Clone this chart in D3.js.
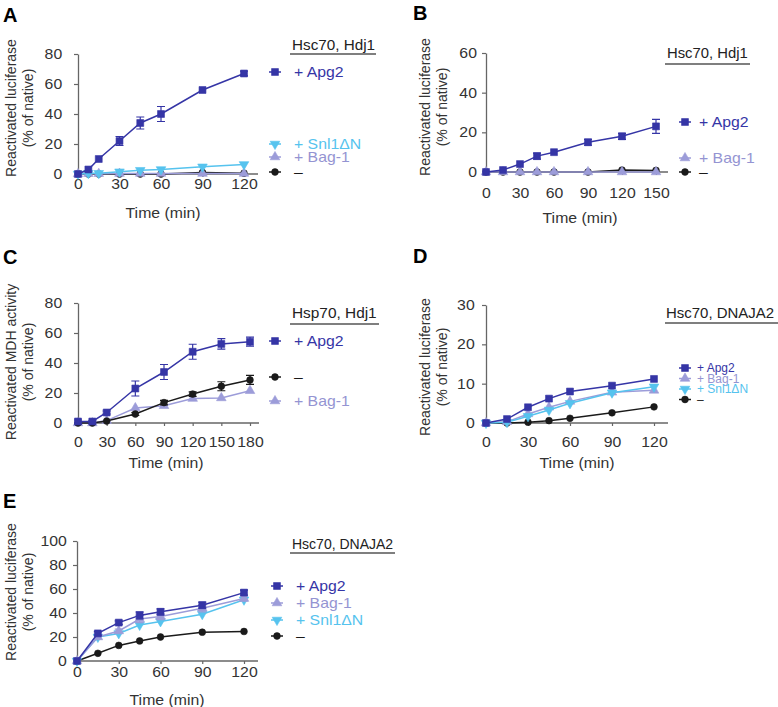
<!DOCTYPE html>
<html><head><meta charset="utf-8">
<script src="https://cdn.jsdelivr.net/npm/d3@7"></script>
<style>
html,body{margin:0;padding:0;background:#fff;}
svg{display:block;font-family:"Liberation Sans",Arial,Helvetica,sans-serif;}
</style></head>
<body>
<svg id="chart" width="778" height="707"></svg>
<script>
// ---------------- DATA ----------------
const seriesNames = ["+ Apg2", "+ Bag-1", "+ Snl1\u0394N", "\u2013"];

// Panel A: Hsc70, Hdj1 (luciferase)
const aTimes = [0, 7.5, 15, 30, 45, 60, 90, 120];
const aApg2 = [0, 3, 10, 22, 34, 40, 56, 67];
const aApg2Err = [0, 0, 0, 3, 4, 5, 0, 1.5];
const aSnl = [0, 0.5, 0.5, 1.5, 2.5, 3, 4.8, 6.4];
const aBag = [0, 0.2, 0.2, 0.3, 0.3, 0.3, 0.3, 0.3];
const aNone = [0, 0, 0, 0, 0, 0, 1, 0.5];
const aXTicks = [0, 30, 60, 90, 120];
const aYTicks = [0, 20, 40, 60, 80];

// Panel B: Hsc70, Hdj1 (luciferase)
const bTimes = [0, 15, 30, 45, 60, 90, 120, 150];
const bApg2 = [0, 1, 4, 8, 10, 15, 18, 23];
const bApg2Err = [0, 0, 0, 1.5, 0, 1.5, 1.5, 3.5];
const bBag = [0, 0, 0, 0, 0, 0, 0, 0];
const bNone = [0, 0, 0, 0, 0, 0, 1, 0.8];
const bXTicks = [0, 30, 60, 90, 120, 150];
const bYTicks = [0, 20, 40, 60];

// Panel C: Hsp70, Hdj1 (MDH)
const cTimes = [0, 15, 30, 60, 90, 120, 150, 180];
const cApg2 = [1, 1, 7, 23, 34, 47.5, 52.7, 54.2];
const cApg2Err = [1, 0.8, 1, 5, 5, 5, 3.5, 3];
const cNone = [0, 0, 1.3, 6, 13.6, 19.3, 24.5, 28.7];
const cNoneErr = [0, 0, 0, 1, 1.5, 1.5, 3, 3];
const cBag = [0, 0, 1.6, 10, 11.5, 16.3, 16.7, 21.5];
const cXTicks = [0, 30, 60, 90, 120, 150, 180];
const cYTicks = [0, 20, 40, 60, 80];

// Panel D: Hsc70, DNAJA2 (luciferase)
const dTimes = [0, 15, 30, 45, 60, 90, 120];
const dApg2 = [0, 1, 4, 6.2, 8, 9.5, 11.2];
const dBag = [0, 0.3, 2.3, 4, 5.5, 7.8, 8.3];
const dSnl = [0, 0.2, 1.7, 3.3, 5, 7.7, 9.2];
const dNone = [0, 0, 0.2, 0.6, 1.2, 2.6, 4.1];
const dXTicks = [0, 30, 60, 90, 120];
const dYTicks = [0, 10, 20, 30];

// Panel E: Hsc70, DNAJA2 (luciferase)
const eTimes = [0, 15, 30, 45, 60, 90, 120];
const eApg2 = [0, 23, 32, 38, 41, 46.5, 57];
const eApg2Err = [0, 1.5, 1.5, 3, 2.5, 2.5, 2];
const eBag = [0, 20, 25, 35, 37, 44, 52];
const eBagErr = [0, 1.5, 1.5, 3, 2.5, 3, 2];
const eSnl = [0, 20, 23, 30, 33, 39, 51];
const eNone = [0, 6.4, 13, 16.7, 20, 24, 24.6];
const eXTicks = [0, 30, 60, 90, 120];
const eYTicks = [0, 20, 40, 60, 80, 100];

// ---------------- STYLE ----------------
const colors = {"+ Apg2": "#3535a6", "+ Bag-1": "#9c9cd9", "+ Snl1\u0394N": "#56c3ee", "\u2013": "#1a1a1a"};
const textColors = {"+ Apg2": "#3535a6", "+ Bag-1": "#9494d2", "+ Snl1\u0394N": "#56c3ee", "\u2013": "#1a1a1a"};
const symbols = {"+ Apg2": "square", "+ Bag-1": "up", "+ Snl1\u0394N": "down", "\u2013": "circle"};

const svg = d3.select("#chart");
const FONT = 14;
const SX = 1.13; // horizontal stretch of the figure's lettering

function sym(kind) {
  if (kind === "square") return d3.symbol(d3.symbolSquare, 48)();
  if (kind === "circle") return d3.symbol(d3.symbolCircle, 36)();
  return d3.symbol(d3.symbolTriangle, 40)();
}
function drawMarker(g, kind, x, y, color) {
  const p = g.append("path").attr("d", sym(kind)).attr("fill", color)
    .attr("stroke", color).attr("stroke-width", 0.6);
  if (kind === "down") p.attr("transform", `translate(${x},${y}) rotate(180)`);
  else p.attr("transform", `translate(${x},${y})`);
}
function hText(g, x, y, txt, opts) {
  const sx = opts.sx || SX;
  const t = g.append("text").attr("transform", `translate(${x},${y}) scale(${sx},1)`)
    .attr("font-size", opts.fs || FONT).attr("fill", opts.fill || "#333").text(txt);
  if (opts.anchor) t.attr("text-anchor", opts.anchor);
  if (opts.dy) t.attr("dy", opts.dy);
  return t;
}

const panels = [
  { letter: "A", lx: 3, ly: 22,
    x0: 78, x1: 244, axEnd: 258, y0: 174, y1: 54,
    xDom: [0, 120], yDom: [0, 80], xTicks: aXTicks, yTicks: aYTicks,
    xPad: 2, yPad: 10, titleX: 163, titleY: 218, ytitleX: [11, 28], ytitleY: 108,
    ytitle: ["Reactivated luciferase", "(% of native)"],
    times: aTimes,
    series: [
      {name: "\u2013", v: aNone},
      {name: "+ Bag-1", v: aBag},
      {name: "+ Snl1\u0394N", v: aSnl},
      {name: "+ Apg2", v: aApg2, err: aApg2Err}],
    legend: {hx: 292, hy: 50, hsx: 1.09, uy: 54, ux: [290, 376], mx: 275, tx: 294, fs: 14, sx: 1.13,
      items: [["+ Apg2", 72], ["+ Snl1\u0394N", 144], ["+ Bag-1", 157], ["\u2013", 172]], header: "Hsc70, Hdj1"} },
  { letter: "B", lx: 413, ly: 20,
    x0: 486, x1: 656, axEnd: 668, y0: 172, y1: 53,
    xDom: [0, 150], yDom: [0, 60], xTicks: bXTicks, yTicks: bYTicks,
    xPad: 13, yPad: 4, titleX: 580, titleY: 223, ytitleX: [425, 442], ytitleY: 107,
    ytitle: ["Reactivated luciferase", "(% of native)"],
    times: bTimes,
    series: [
      {name: "\u2013", v: bNone},
      {name: "+ Bag-1", v: bBag},
      {name: "+ Apg2", v: bApg2, err: bApg2Err}],
    legend: {hx: 667, hy: 58, hsx: 1.06, uy: 64, ux: [665, 750], mx: 685, tx: 699, fs: 14, sx: 1.13,
      items: [["+ Apg2", 122], ["+ Bag-1", 158], ["\u2013", 172]], header: "Hsc70, Hdj1"} },
  { letter: "C", lx: 3, ly: 264,
    x0: 78, x1: 250, axEnd: 259, y0: 423, y1: 303,
    xDom: [0, 180], yDom: [0, 80], xTicks: cXTicks, yTicks: cYTicks,
    xPad: 11, yPad: 10, titleX: 166, titleY: 468, ytitleX: [11, 28], ytitleY: 362,
    ytitle: ["Reactivated MDH activity", "(% of native)"],
    times: cTimes,
    series: [
      {name: "+ Bag-1", v: cBag},
      {name: "\u2013", v: cNone, err: cNoneErr},
      {name: "+ Apg2", v: cApg2, err: cApg2Err}],
    legend: {hx: 292, hy: 318, hsx: 1.1, uy: 324, ux: [290, 379], mx: 275, tx: 294, fs: 14, sx: 1.13,
      items: [["+ Apg2", 341], ["\u2013", 377], ["+ Bag-1", 401]], header: "Hsp70, Hdj1"} },
  { letter: "D", lx: 413, ly: 263,
    x0: 486, x1: 654, axEnd: 668, y0: 423, y1: 305,
    xDom: [0, 120], yDom: [0, 30], xTicks: dXTicks, yTicks: dYTicks,
    xPad: 11, yPad: 6, titleX: 577, titleY: 468, ytitleX: [425, 442], ytitleY: 367,
    ytitle: ["Reactivated luciferase", "(% of native)"],
    times: dTimes,
    series: [
      {name: "\u2013", v: dNone},
      {name: "+ Bag-1", v: dBag},
      {name: "+ Snl1\u0394N", v: dSnl},
      {name: "+ Apg2", v: dApg2}],
    legend: {hx: 666, hy: 318, hsx: 1.07, uy: 323, ux: [665, 778], mx: 685, tx: 697, fs: 12, sx: 1.0,
      items: [["+ Apg2", 368], ["+ Bag-1", 378.5], ["+ Snl1\u0394N", 389], ["\u2013", 399.5]], header: "Hsc70, DNAJA2"} },
  { letter: "E", lx: 3, ly: 508,
    x0: 77, x1: 244, axEnd: 258, y0: 661, y1: 541,
    xDom: [0, 120], yDom: [0, 100], xTicks: eXTicks, yTicks: eYTicks,
    xPad: 3, yPad: 5, titleX: 167, titleY: 705, ytitleX: [11, 28], ytitleY: 592,
    ytitle: ["Reactivated luciferase", "(% of native)"],
    times: eTimes,
    series: [
      {name: "\u2013", v: eNone},
      {name: "+ Snl1\u0394N", v: eSnl},
      {name: "+ Bag-1", v: eBag, err: eBagErr},
      {name: "+ Apg2", v: eApg2, err: eApg2Err}],
    legend: {hx: 292, hy: 549, hsx: 1.0, uy: 553, ux: [290, 395], mx: 277, tx: 296, fs: 14, sx: 1.13,
      items: [["+ Apg2", 586], ["+ Bag-1", 603], ["+ Snl1\u0394N", 620], ["\u2013", 636]], header: "Hsc70, DNAJA2"} }
];

panels.forEach(p => {
  const g = svg.append("g");
  const x = d3.scaleLinear().domain(p.xDom).range([p.x0, p.x1]);
  const y = d3.scaleLinear().domain(p.yDom).range([p.y0, p.y1]);

  // letter
  g.append("text").attr("x", p.lx).attr("y", p.ly).text(p.letter)
    .attr("font-size", 20).attr("font-weight", "bold").attr("fill", "#000");

  // y axis
  const ya = g.append("g").attr("transform", `translate(${p.x0},0)`)
    .call(d3.axisLeft(y).tickValues(p.yTicks).tickSize(4).tickPadding(p.yPad).tickSizeOuter(0));
  // x axis
  const xa = g.append("g").attr("transform", `translate(0,${p.y0})`)
    .call(d3.axisBottom(x).tickValues(p.xTicks).tickSize(3).tickPadding(p.xPad).tickSizeOuter(0));
  [ya, xa].forEach(a => {
    a.select(".domain").attr("stroke", "#666").attr("stroke-width", 1.3);
    a.selectAll(".tick line").attr("stroke", "#666").attr("stroke-width", 1.2);
    a.selectAll(".tick text").attr("font-size", FONT).attr("fill", "#333")
      .attr("font-family", '"Liberation Sans",Arial,sans-serif')
      .attr("transform", `scale(${SX},1)`);
  });
  // extend x axis line
  xa.select(".domain").attr("d", `M${p.x0},0H${p.axEnd}`);

  // axis titles
  hText(g, p.titleX, p.titleY, "Time (min)", {anchor: "middle"});
  p.ytitle.forEach((t, i) => {
    g.append("text").attr("transform", `translate(${p.ytitleX[i] + 5},${p.ytitleY}) rotate(-90)`)
      .attr("text-anchor", "middle").attr("font-size", FONT).attr("fill", "#333").text(t);
  });

  // series
  const line = d3.line().x((d, i) => x(p.times[i])).y(d => y(d));
  p.series.forEach(s => {
    const c = colors[s.name];
    g.append("path").datum(s.v).attr("d", line).attr("fill", "none")
      .attr("stroke", c).attr("stroke-width", 1.5);
    if (s.err) {
      s.v.forEach((v, i) => {
        const e = s.err[i];
        if (!e) return;
        const cx = x(p.times[i]);
        g.append("path").attr("d",
          `M${cx},${y(v - e)}V${y(v + e)}M${cx - 4},${y(v - e)}H${cx + 4}M${cx - 4},${y(v + e)}H${cx + 4}`)
          .attr("stroke", c).attr("stroke-width", 1.2).attr("fill", "none");
      });
    }
    s.v.forEach((v, i) => drawMarker(g, symbols[s.name], x(p.times[i]), y(v), c));
  });

  // legend
  const L = p.legend;
  hText(g, L.hx, L.hy, L.header, {fill: "#222", sx: L.hsx});
  g.append("line").attr("x1", L.ux[0]).attr("x2", L.ux[1]).attr("y1", L.uy).attr("y2", L.uy)
    .attr("stroke", "#555").attr("stroke-width", 1.5);
  L.items.forEach(([name, yy]) => {
    const c = colors[name];
    g.append("line").attr("x1", L.mx - 6).attr("x2", L.mx + 6).attr("y1", yy).attr("y2", yy)
      .attr("stroke", c).attr("stroke-width", 1.5);
    drawMarker(g, symbols[name], L.mx, yy, c);
    hText(g, L.tx, yy, name, {fs: L.fs, fill: textColors[name], dy: "0.36em", sx: L.sx});
  });
});
</script>
</body></html>
